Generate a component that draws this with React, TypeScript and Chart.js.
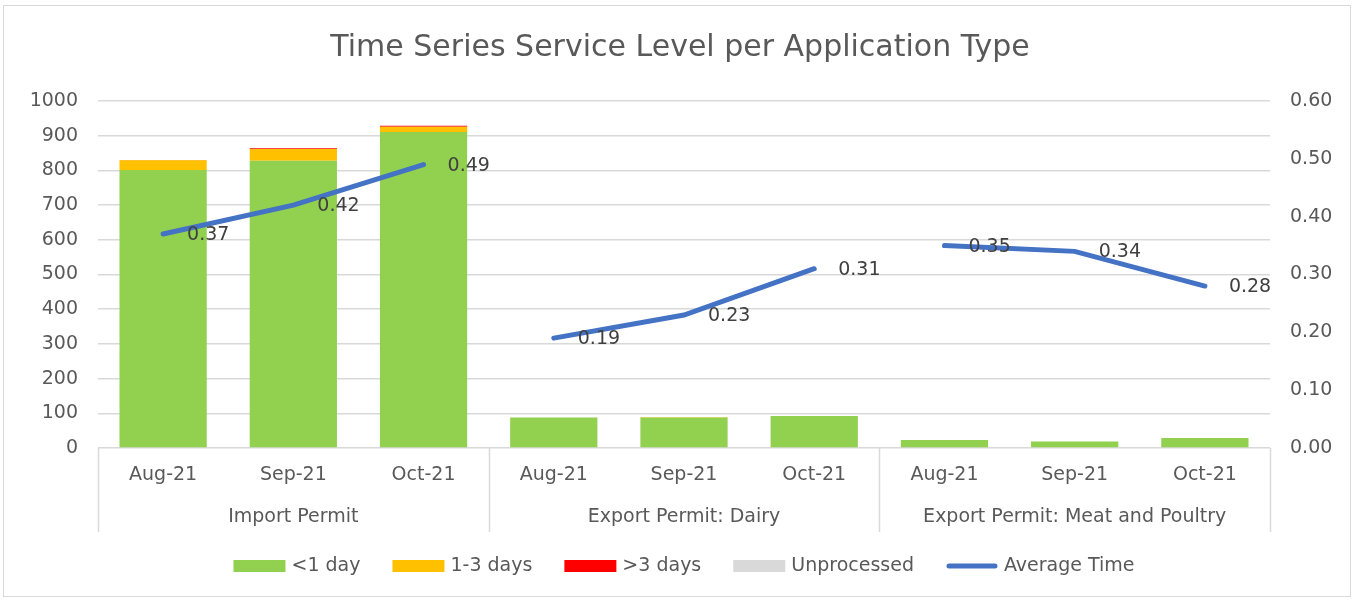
import React, { useEffect, useRef } from "react";
import { Chart, registerables } from "chart.js";
Chart.register(...registerables);

const months = ["Aug-21", "Sep-21", "Oct-21", "Aug-21", "Sep-21", "Oct-21", "Aug-21", "Sep-21", "Oct-21"];
const groups = ["Import Permit", "Export Permit: Dairy", "Export Permit: Meat and Poultry"];
const lessThan1Day = [801, 828, 911, 88, 88, 92, 23, 19, 29];
const oneToThreeDays = [28, 34, 15, 0, 1, 0, 0, 0, 0];
const moreThan3Days = [1, 2, 3, 0, 0, 0, 0, 0, 0];
const unprocessed = [0, 0, 0, 0, 0, 0, 0, 0, 0];
const averageTime = [0.37, 0.42, 0.49, 0.19, 0.23, 0.31, 0.35, 0.34, 0.28];
const leftTicksMax = 1000;
const rightTicksMax = 0.6;

const FONT = "'DejaVu Sans', sans-serif";
const TEXT = "#595959";
const GREEN = "#92D050";
const ORANGE = "#FFC000";
const RED = "#FF0000";
const GRAY = "#D9D9D9";
const BLUE = "#4472C4";
const FS = 19;

export default function App() {
  const ref = useRef<HTMLCanvasElement>(null);
  useEffect(() => {
    document.body.style.margin = "0";
    const canvas = ref.current!;
    const decor = {
      id: "decor",
      beforeDraw(chart: any) {
        const ctx = chart.ctx;
        ctx.save();
        ctx.fillStyle = "#fff";
        ctx.fillRect(0, 0, chart.width, chart.height);
        ctx.strokeStyle = "#D9D9D9";
        ctx.lineWidth = 1;
        ctx.strokeRect(3.5, 5.5, 1347, 591);
        ctx.fillStyle = TEXT;
        ctx.font = `30px ${FONT}`;
        ctx.textAlign = "center";
        ctx.textBaseline = "middle";
        ctx.fillText("Time Series Service Level per Application Type", 680, 48);
        ctx.restore();
      },
      afterDraw(chart: any) {
        const ctx = chart.ctx;
        const xs = chart.scales.x;
        const area = chart.chartArea;
        ctx.save();
        const bounds = [
          area.left,
          (xs.getPixelForValue(2) + xs.getPixelForValue(3)) / 2,
          (xs.getPixelForValue(5) + xs.getPixelForValue(6)) / 2,
          area.right,
        ];
        ctx.strokeStyle = "#D9D9D9";
        ctx.lineWidth = 1.5;
        bounds.forEach((b) => {
          ctx.beginPath();
          ctx.moveTo(Math.round(b) + 0.5, area.bottom);
          ctx.lineTo(Math.round(b) + 0.5, area.bottom + 84);
          ctx.stroke();
        });
        ctx.fillStyle = TEXT;
        ctx.font = `${FS}px ${FONT}`;
        ctx.textAlign = "center";
        ctx.textBaseline = "middle";
        groups.forEach((g, i) => {
          ctx.fillText(g, (bounds[i] + bounds[i + 1]) / 2, area.bottom + 69);
        });
        const items = [
          { label: "<1 day", color: GREEN, line: false },
          { label: "1-3 days", color: ORANGE, line: false },
          { label: ">3 days", color: RED, line: false },
          { label: "Unprocessed", color: GRAY, line: false },
          { label: "Average Time", color: BLUE, line: true },
        ];
        const sw = 52, gapText = 6, gapItem = 32;
        const widths = items.map((it) => sw + gapText + ctx.measureText(it.label).width);
        const total = widths.reduce((a, b) => a + b, 0) + gapItem * (items.length - 1);
        let x = 684 - total / 2;
        const y = 566;
        ctx.textAlign = "left";
        items.forEach((it, i) => {
          if (it.line) {
            ctx.strokeStyle = it.color;
            ctx.lineWidth = 5;
            ctx.lineCap = "round";
            ctx.beginPath();
            ctx.moveTo(x + 3, y);
            ctx.lineTo(x + sw - 3, y);
            ctx.stroke();
          } else {
            ctx.fillStyle = it.color;
            ctx.fillRect(x, y - 6, sw, 12);
          }
          ctx.fillStyle = TEXT;
          ctx.fillText(it.label, x + sw + gapText, y);
          x += widths[i] + gapItem;
        });
        ctx.restore();
      },
      afterDatasetsDraw(chart: any) {
        const ctx = chart.ctx;
        const meta = chart.getDatasetMeta(0);
        ctx.save();
        ctx.fillStyle = "#404040";
        ctx.font = `${FS}px ${FONT}`;
        ctx.textAlign = "left";
        ctx.textBaseline = "middle";
        meta.data.forEach((pt: any, i: number) => {
          ctx.fillText(averageTime[i].toFixed(2), pt.x + 24, pt.y + 1);
        });
        ctx.restore();
      },
    };

    const chart = new Chart(canvas, {
      type: "bar",
      data: {
        labels: months,
        datasets: [
          {
            type: "line",
            label: "Average Time",
            data: averageTime,
            yAxisID: "y1",
            borderColor: BLUE,
            borderWidth: 5,
            borderCapStyle: "round",
            pointRadius: 0,
            order: 0,
            segment: {
              borderColor: (c: any) =>
                c.p0DataIndex === 2 || c.p0DataIndex === 5 ? "rgba(0,0,0,0)" : BLUE,
            },
          } as any,
          { label: "<1 day", data: lessThan1Day, backgroundColor: GREEN, order: 1, yAxisID: "y" },
          { label: "1-3 days", data: oneToThreeDays, backgroundColor: ORANGE, order: 1, yAxisID: "y" },
          { label: ">3 days", data: moreThan3Days, backgroundColor: RED, order: 1, yAxisID: "y" },
          { label: "Unprocessed", data: unprocessed, backgroundColor: GRAY, order: 1, yAxisID: "y" },
        ],
      },
      options: {
        responsive: false,
        animation: false,
        datasets: { bar: { categoryPercentage: 1, barPercentage: 0.67 } },
        layout: { padding: { left: 0, right: 0, top: 101, bottom: 68 } },
        plugins: { legend: { display: false }, title: { display: false }, tooltip: { enabled: false } },
        scales: {
          x: {
            stacked: true,
            grid: { display: false, drawTicks: false },
            border: { display: false },
            ticks: { color: TEXT, font: { family: FONT, size: FS }, padding: 16, maxRotation: 0, autoSkip: false },
            afterFit: (s: any) => { s.height = 84; },
          },
          y: {
            stacked: true,
            position: "left",
            min: 0,
            max: leftTicksMax,
            grid: { color: "#D9D9D9", lineWidth: 1.5, drawTicks: false },
            border: { display: false },
            ticks: {
              stepSize: 100,
              color: TEXT,
              font: { family: FONT, size: FS },
              padding: 20,
              callback: (v: any) => String(v),
            },
            afterFit: (s: any) => { s.width = 98; },
          },
          y1: {
            position: "right",
            min: 0,
            max: rightTicksMax,
            grid: { display: false, drawTicks: false },
            border: { display: false },
            ticks: {
              stepSize: 0.1,
              color: TEXT,
              font: { family: FONT, size: FS },
              padding: 20,
              callback: (v: any) => Number(v).toFixed(2),
            },
            afterFit: (s: any) => { s.width = 84; },
          },
        },
      },
      plugins: [decor],
    });
    return () => chart.destroy();
  }, []);
  return (
    <div style={{ width: 1354, height: 600, position: "relative" }}>
      <canvas ref={ref} width={1354} height={600} style={{ width: 1354, height: 600, display: "block" }} />
    </div>
  );
}
